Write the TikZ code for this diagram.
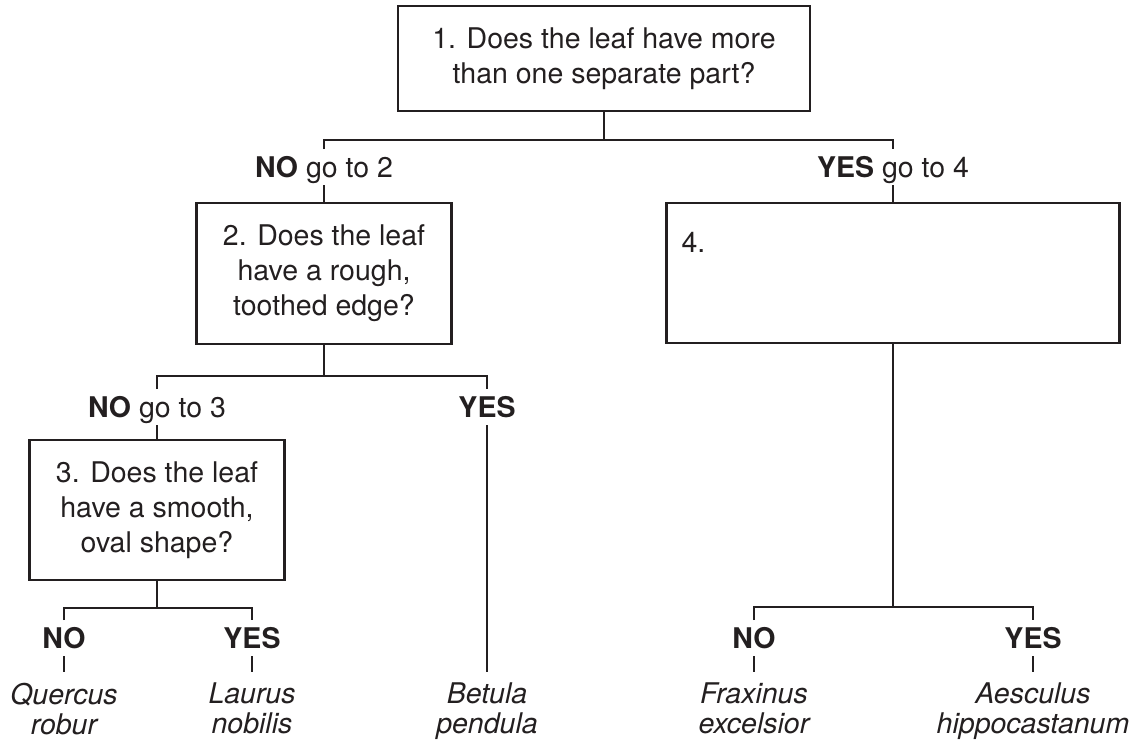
\documentclass[tikz,border=0pt]{standalone}
\usepackage{fontspec}
\setmainfont{TeX Gyre Heros}
\usepackage{tikz}
\usetikzlibrary{positioning}
\definecolor{key_black}{RGB}{35,31,32}

\begin{document}
\begin{tikzpicture}[x=1pt,y=-1pt,line width=2.4pt,color=key_black]
    \tikzstyle{question}=[draw=key_black, rectangle, inner sep=0pt, align=center, font=\fontsize{28.5}{35}\selectfont]
    \tikzstyle{answer}=[inner sep=0pt, outer ysep=8pt, text height=20pt, text depth=0pt, font=\fontsize{28.5}{35}\selectfont]
    \tikzstyle{species}=[anchor=north, inner sep=0pt, outer ysep=11pt, align=center, font=\fontsize{28.5}{30}\selectfont\itshape]

    \useasboundingbox (0,0) rectangle (1138,744);

    % questions
    \node[question, minimum width=412pt, minimum height=105pt] (q1) at (604,58.5)  {1. Does the leaf have more\\than one separate part?};
    \node[question, minimum width=255pt, minimum height=141pt] (q2) at (324,273.5) {2. Does the leaf\\have a rough,\\toothed edge?};
    \node[question, minimum width=255pt, minimum height=140pt] (q3) at (157,510)   {3. Does the leaf\\have a smooth,\\oval shape?};
    \node[question, minimum width=453pt, minimum height=140pt] (q4) at (893,273)   {};
    \node[inner sep=0pt, anchor=north west, font=\fontsize{28.5}{35}\selectfont, below right=29pt and 15pt of q4.north west] (q4num) {4.};

    % answers
    \node[answer] (no2)  at (324,167)  {\textbf{NO} go to 2};
    \node[answer] (yes4) at (893,167)  {\textbf{YES} go to 4};
    \node[answer] (no3)  at (157,407)  {\textbf{NO} go to 3};
    \node[answer] (yes2) at (487,407)  {\textbf{YES}};
    \node[answer] (no5)  at (64,638)   {\textbf{NO}};
    \node[answer] (yes5) at (252,638)  {\textbf{YES}};
    \node[answer] (no6)  at (754,638)  {\textbf{NO}};
    \node[answer] (yes6) at (1033,638) {\textbf{YES}};

    % species
    \node[species] (quercus)  at (64,672)   {Quercus\\robur};
    \node[species] (laurus)   at (252,672)  {Laurus\\nobilis};
    \node[species] (betula)   at (487,672)  {Betula\\pendula};
    \node[species] (fraxinus) at (754,672)  {Fraxinus\\excelsior};
    \node[species] (aesculus) at (1033,672) {Aesculus\\hippocastanum};

    \coordinate (j1) at (604,140);
    \coordinate (j2) at (324,376);
    \coordinate (j3) at (157,608);
    \coordinate (j4) at (893,607);

    \draw (q1.south) -- (j1);
    \draw (no2.north) |- (j1) -| (yes4.north);
    \draw (q2.south) -- (j2);
    \draw (no3.north) |- (j2) -| (yes2.north);
    \draw (q3.south) -- (j3);
    \draw (no5.north) |- (j3) -| (yes5.north);
    \draw (q4.south) -- (j4);
    \draw (no6.north) |- (j4) -| (yes6.north);
    \path
     (no2.south)  edge (q2.north)
     (yes4.south) edge (q4.north)
     (no3.south)  edge (q3.north)
     (yes2.south) edge (betula.north)
     (no5.south)  edge (quercus.north)
     (yes5.south) edge (laurus.north)
     (no6.south)  edge (fraxinus.north)
     (yes6.south) edge (aesculus.north)
     ;
\end{tikzpicture}
\end{document}
